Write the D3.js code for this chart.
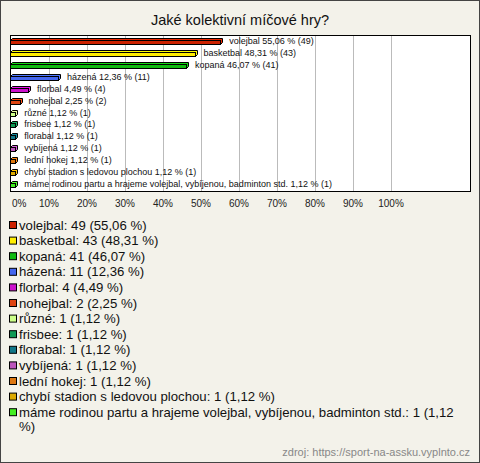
<!DOCTYPE html>
<html>
<head>
<meta charset="utf-8">
<script src="https://cdn.jsdelivr.net/npm/d3@7"></script>
<style>
  body { margin: 0; background: #fff; }
  text { font-family: "Liberation Sans", Arial, sans-serif; }
</style>
</head>
<body>
<div id="chart"></div>
<script>
var TITLE = "Jaké kolektivní míčové hry?";
var SOURCE = "zdroj: https://sport-na-assku.vyplnto.cz";

var names = ["volejbal", "basketbal", "kopaná", "házená", "florbal", "nohejbal", "různé", "frisbee",
  "florabal", "vybíjená", "lední hokej", "chybí stadion s ledovou plochou",
  "máme rodinou partu a hrajeme volejbal, vybíjenou, badminton std."];
var counts = [49, 43, 41, 11, 4, 2, 1, 1, 1, 1, 1, 1, 1];
var percents = [55.06, 48.31, 46.07, 12.36, 4.49, 2.25, 1.12, 1.12, 1.12, 1.12, 1.12, 1.12, 1.12];
var colors = ["#cc2200", "#ffee00", "#11bb11", "#4466ee", "#cc11cc", "#dd4411", "#ccff88", "#119955",
  "#117788", "#bb55bb", "#dd7711", "#ddaa00", "#44ee22"];
var ticks = [0, 10, 20, 30, 40, 50, 60, 70, 80, 90, 100];

function fmt(v) { return v.toFixed(2).replace(".", ","); }

var W = 480, H = 463;
var svg = d3.select("#chart").append("svg")
  .attr("width", W).attr("height", H);

// background + frame
svg.append("rect").attr("x", 0.5).attr("y", 0.5).attr("width", W - 1).attr("height", H - 1)
  .attr("fill", "#f3f2ea").attr("stroke", "#444");

svg.append("text").attr("x", 240).attr("y", 25).attr("text-anchor", "middle")
  .attr("font-size", "14.5px").attr("fill", "#111").text(TITLE);

var plot = { left: 10.5, right: 470.5, top: 35.5, bottom: 191.5 };
var x = d3.scaleLinear().domain([0, 100]).range([11, 391]);
var y = d3.scaleBand().domain(names).range([35, 190]);

svg.append("rect").attr("x", plot.left).attr("y", plot.top)
  .attr("width", plot.right - plot.left).attr("height", plot.bottom - plot.top)
  .attr("fill", "#fff");

svg.append("g").selectAll("line").data(ticks.slice(1)).enter().append("line")
  .attr("x1", function(d) { return Math.round(x(d)) + 0.5; })
  .attr("x2", function(d) { return Math.round(x(d)) + 0.5; })
  .attr("y1", plot.top).attr("y2", plot.bottom)
  .attr("stroke", "#bbb");

svg.append("rect").attr("x", plot.left).attr("y", plot.top)
  .attr("width", plot.right - plot.left).attr("height", plot.bottom - plot.top)
  .attr("fill", "none").attr("stroke", "#000");

// tick labels
svg.append("g").selectAll("text").data(ticks).enter().append("text")
  .attr("x", function(d) { return d === 0 ? 12 : x(d); })
  .attr("y", 207)
  .attr("text-anchor", function(d) { return d === 0 ? "start" : "middle"; })
  .attr("font-size", "10px").attr("fill", "#222")
  .text(function(d) { return d + "%"; });

// 3d bars
var depth = 2;
var rows = names.map(function(n, i) {
  return { name: n, count: counts[i], pct: percents[i], color: colors[i] };
});
var bars = svg.append("g").selectAll("g").data(rows).enter().append("g")
  .attr("transform", function(d) {
    return "translate(0," + Math.round(y(d.name) + y.bandwidth() / 2) + ")";
  });

bars.append("path")
  .attr("d", function(d) {
    var x0 = 10.5, x1 = Math.round(x(d.pct)) + 0.5;
    if (x1 - x0 < 3) x1 = x0 + 3;
    return "M" + x0 + ",-0.5 L" + (x0 + depth) + "," + (-0.5 - depth) +
      " L" + (x1 + depth) + "," + (-0.5 - depth) + " L" + (x1 + depth) + "," + (3.5 - depth) +
      " L" + x1 + ",3.5 L" + x1 + ",-0.5 Z";
  })
  .attr("fill", function(d) { return d3.color(d.color).brighter(0.4); })
  .attr("stroke", "#000").attr("stroke-width", 1);

bars.append("rect")
  .attr("x", 10.5).attr("y", -0.5)
  .attr("width", function(d) { return Math.max(3, Math.round(x(d.pct)) - 10); })
  .attr("height", 4)
  .attr("fill", function(d) { return d.color; })
  .attr("stroke", "#000").attr("stroke-width", 1);

bars.append("text")
  .attr("x", function(d) { return Math.max(x(d.pct), 14) + depth + 7; })
  .attr("y", 3)
  .attr("font-size", "9px").attr("fill", "#111")
  .text(function(d) { return d.name + " " + fmt(d.pct) + " % (" + d.count + ")"; });

// legend
var legend = svg.append("g");
var ly = 225, maxW = 452;
rows.forEach(function(d) {
  legend.append("rect").attr("x", 9.5).attr("y", ly - 3.5).attr("width", 7).attr("height", 7)
    .attr("fill", d.color).attr("stroke", "#000");
  var words = (d.name + ": " + d.count + " (" + fmt(d.pct) + " %)").split(" ");
  var t = legend.append("text").attr("x", 19).attr("y", ly + 4.5)
    .attr("font-size", "13.2px").attr("fill", "#111");
  var line = [], tspan = t.append("tspan").attr("x", 19), nLines = 1;
  words.forEach(function(w) {
    line.push(w);
    tspan.text(line.join(" "));
    if (tspan.node().getComputedTextLength() > maxW && line.length > 1) {
      line.pop();
      tspan.text(line.join(" "));
      line = [w];
      tspan = t.append("tspan").attr("x", 19).attr("dy", 14).text(w);
      nLines++;
    }
  });
  ly += 15.6 + (nLines - 1) * 14;
});

svg.append("text").attr("x", 470).attr("y", 456).attr("text-anchor", "end")
  .attr("font-size", "11px").attr("fill", "#888").text(SOURCE);
</script>
</body>
</html>
